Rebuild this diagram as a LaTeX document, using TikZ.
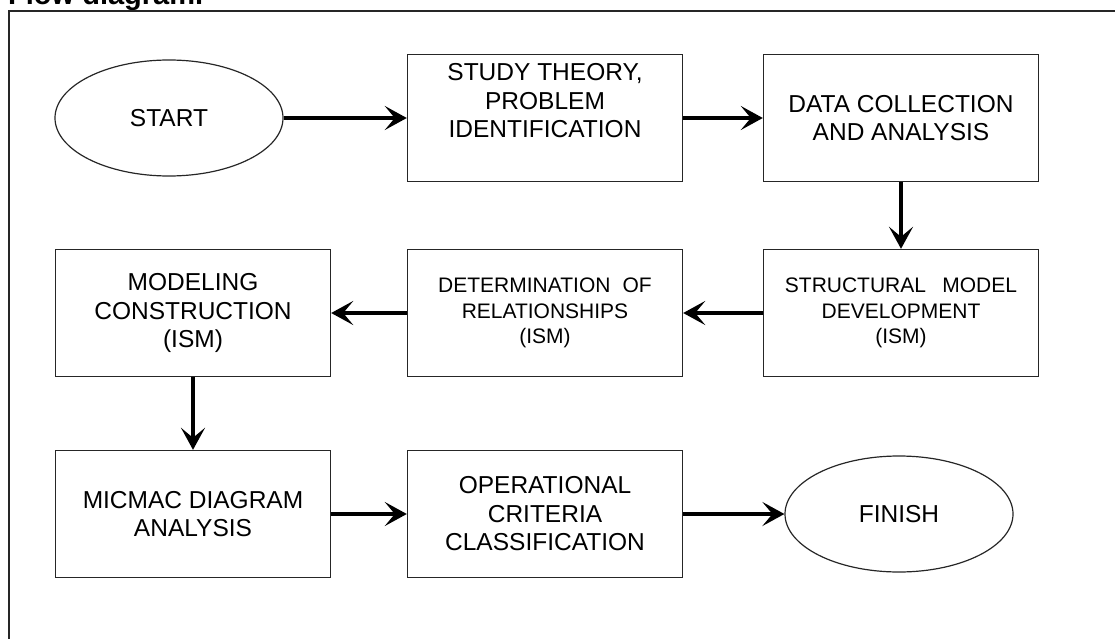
\documentclass[tikz,border=0pt]{standalone}
\usepackage{fontspec}
\setmainfont{Liberation Sans}
\usetikzlibrary{shapes.geometric,arrows.meta}
\begin{document}
\begin{tikzpicture}[x=1pt,y=-1pt,
  procbox/.style={draw=black!85,line width=1.4pt,minimum width=275pt,minimum height=127pt,inner sep=0pt,align=center,font=\fontsize{24.5}{28.5}\selectfont},
  smallbox/.style={procbox,font=\fontsize{21}{25.5}\selectfont},
  termnode/.style={ellipse,draw=black!85,line width=1.2pt,minimum width=228pt,minimum height=116pt,inner sep=0pt,font=\fontsize{24.5}{28.5}\selectfont},
  flowarrow/.style={line width=3.6pt,-{Stealth[length=22pt,width=24pt,inset=10pt]}}]
\useasboundingbox (0,0) rectangle (1115,639);
\clip (0,0) rectangle (1115,639);
\node at (8,5) [anchor=base west,font=\bfseries\fontsize{29}{32}\selectfont,inner sep=0pt] (title) {Flow diagram.};
\draw[line width=1.4pt,black!85] (9,700) -- (9,11) -- (1200,11);
% first row
\node at (169,118) [termnode] (start) {START};
\node at (545,118) [procbox] (study) {STUDY THEORY,\\PROBLEM\\IDENTIFICATION\\[6pt]};
\node at (901,118) [procbox] (data) {DATA COLLECTION\\AND ANALYSIS};
% second row
\node at (901,313) [smallbox] (struct) {STRUCTURAL\hspace{0.5em} MODEL\\DEVELOPMENT\\(ISM)};
\node at (545,313) [smallbox] (determ) {DETERMINATION\hspace{0.3em} OF\\RELATIONSHIPS\\(ISM)};
\node at (193,313) [procbox] (model) {MODELING\\CONSTRUCTION\\(ISM)};
% third row
\node at (193,514) [procbox] (micmac) {MICMAC DIAGRAM\\ANALYSIS};
\node at (545,514) [procbox] (oper) {OPERATIONAL\\CRITERIA\\CLASSIFICATION};
\node at (899,514) [termnode] (finish) {FINISH};
\draw[flowarrow] (start) -- (study);
\draw[flowarrow] (study) -- (data);
\draw[flowarrow] (data) -- (struct);
\draw[flowarrow] (struct) -- (determ);
\draw[flowarrow] (determ) -- (model);
\draw[flowarrow] (model) -- (micmac);
\draw[flowarrow] (micmac) -- (oper);
\draw[flowarrow] (oper) -- (finish);
\end{tikzpicture}
\end{document}
